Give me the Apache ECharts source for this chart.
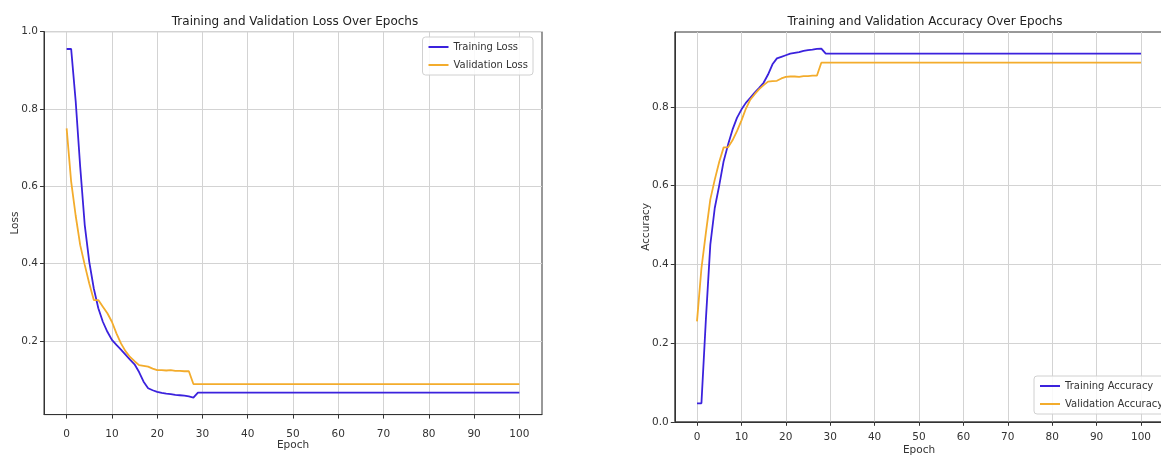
<!DOCTYPE html>
<html>
<head>
<meta charset="utf-8">
<script src="https://cdn.jsdelivr.net/npm/echarts@6/dist/echarts.min.js"></script>
<style>
  html, body { margin: 0; padding: 0; background: #fff; }
  #chart { width: 1161px; height: 455px; }
</style>
</head>
<body>
<div id="chart"></div>
<script>
const epochs = [
  0, 1, 2, 3, 4, 5, 6, 7, 8, 9, 10, 11, 12, 13, 14, 15, 16, 17, 18, 19,
  20, 21, 22, 23, 24, 25, 26, 27, 28, 29, 30, 31, 32, 33, 34, 35, 36, 37, 38, 39,
  40, 41, 42, 43, 44, 45, 46, 47, 48, 49, 50, 51, 52, 53, 54, 55, 56, 57, 58, 59,
  60, 61, 62, 63, 64, 65, 66, 67, 68, 69, 70, 71, 72, 73, 74, 75, 76, 77, 78, 79,
  80, 81, 82, 83, 84, 85, 86, 87, 88, 89, 90, 91, 92, 93, 94, 95, 96, 97, 98, 99, 100,
];
const trainLoss = [
  0.955, 0.955, 0.82, 0.65, 0.50, 0.405, 0.336, 0.285, 0.25, 0.224,
  0.203, 0.19, 0.178, 0.165, 0.152, 0.14, 0.12, 0.095, 0.078, 0.073,
  0.069, 0.066, 0.064, 0.063, 0.061, 0.06, 0.059, 0.057, 0.054, 0.067,
  0.067, 0.067, 0.067, 0.067, 0.067, 0.067, 0.067, 0.067, 0.067, 0.067,
  0.067, 0.067, 0.067, 0.067, 0.067, 0.067, 0.067, 0.067, 0.067, 0.067,
  0.067, 0.067, 0.067, 0.067, 0.067, 0.067, 0.067, 0.067, 0.067, 0.067,
  0.067, 0.067, 0.067, 0.067, 0.067, 0.067, 0.067, 0.067, 0.067, 0.067,
  0.067, 0.067, 0.067, 0.067, 0.067, 0.067, 0.067, 0.067, 0.067, 0.067,
  0.067, 0.067, 0.067, 0.067, 0.067, 0.067, 0.067, 0.067, 0.067, 0.067,
  0.067, 0.067, 0.067, 0.067, 0.067, 0.067, 0.067, 0.067, 0.067, 0.067, 0.067,
];
const valLoss = [
  0.75, 0.612, 0.524, 0.448, 0.397, 0.349, 0.306, 0.306, 0.289, 0.272,
  0.25, 0.22, 0.194, 0.174, 0.159, 0.148, 0.138, 0.136, 0.134, 0.129,
  0.125, 0.125, 0.124, 0.125, 0.123, 0.123, 0.122, 0.122, 0.089, 0.089,
  0.089, 0.089, 0.089, 0.089, 0.089, 0.089, 0.089, 0.089, 0.089, 0.089,
  0.089, 0.089, 0.089, 0.089, 0.089, 0.089, 0.089, 0.089, 0.089, 0.089,
  0.089, 0.089, 0.089, 0.089, 0.089, 0.089, 0.089, 0.089, 0.089, 0.089,
  0.089, 0.089, 0.089, 0.089, 0.089, 0.089, 0.089, 0.089, 0.089, 0.089,
  0.089, 0.089, 0.089, 0.089, 0.089, 0.089, 0.089, 0.089, 0.089, 0.089,
  0.089, 0.089, 0.089, 0.089, 0.089, 0.089, 0.089, 0.089, 0.089, 0.089,
  0.089, 0.089, 0.089, 0.089, 0.089, 0.089, 0.089, 0.089, 0.089, 0.089, 0.089,
];
const trainAcc = [
  0.047, 0.047, 0.26, 0.45, 0.543, 0.60, 0.662, 0.704, 0.742, 0.772,
  0.793, 0.81, 0.823, 0.836, 0.848, 0.861, 0.882, 0.908, 0.923, 0.927,
  0.931, 0.935, 0.937, 0.939, 0.942, 0.944, 0.945, 0.947, 0.948, 0.935,
  0.935, 0.935, 0.935, 0.935, 0.935, 0.935, 0.935, 0.935, 0.935, 0.935,
  0.935, 0.935, 0.935, 0.935, 0.935, 0.935, 0.935, 0.935, 0.935, 0.935,
  0.935, 0.935, 0.935, 0.935, 0.935, 0.935, 0.935, 0.935, 0.935, 0.935,
  0.935, 0.935, 0.935, 0.935, 0.935, 0.935, 0.935, 0.935, 0.935, 0.935,
  0.935, 0.935, 0.935, 0.935, 0.935, 0.935, 0.935, 0.935, 0.935, 0.935,
  0.935, 0.935, 0.935, 0.935, 0.935, 0.935, 0.935, 0.935, 0.935, 0.935,
  0.935, 0.935, 0.935, 0.935, 0.935, 0.935, 0.935, 0.935, 0.935, 0.935, 0.935,
];
const valAcc = [
  0.255, 0.39, 0.48, 0.565, 0.615, 0.66, 0.697, 0.697, 0.715, 0.738,
  0.765, 0.795, 0.818, 0.832, 0.845, 0.855, 0.864, 0.865, 0.866, 0.872,
  0.876, 0.877, 0.877, 0.876, 0.878, 0.878, 0.879, 0.879, 0.912, 0.912,
  0.912, 0.912, 0.912, 0.912, 0.912, 0.912, 0.912, 0.912, 0.912, 0.912,
  0.912, 0.912, 0.912, 0.912, 0.912, 0.912, 0.912, 0.912, 0.912, 0.912,
  0.912, 0.912, 0.912, 0.912, 0.912, 0.912, 0.912, 0.912, 0.912, 0.912,
  0.912, 0.912, 0.912, 0.912, 0.912, 0.912, 0.912, 0.912, 0.912, 0.912,
  0.912, 0.912, 0.912, 0.912, 0.912, 0.912, 0.912, 0.912, 0.912, 0.912,
  0.912, 0.912, 0.912, 0.912, 0.912, 0.912, 0.912, 0.912, 0.912, 0.912,
  0.912, 0.912, 0.912, 0.912, 0.912, 0.912, 0.912, 0.912, 0.912, 0.912, 0.912,
];
const xTicks = [0, 10, 20, 30, 40, 50, 60, 70, 80, 90, 100];
const lossTicks = [0.2, 0.4, 0.6, 0.8, 1.0];
const accTicks = [0.0, 0.2, 0.4, 0.6, 0.8];

const FONT = "'DejaVu Sans', sans-serif";
const BLUE = '#3b22dd';
const ORANGE = '#f3ac2c';
const txt = '#333';

function xAxis(gridIndex, margin, nameGap) {
  return {
    type: 'value', gridIndex, min: -5, max: 105,
    name: 'Epoch', nameLocation: 'middle', nameGap, nameMoveOverlap: false,
    nameTextStyle: { fontFamily: FONT, fontSize: 10.5, color: txt },
    axisLine: { onZero: false, lineStyle: { color: '#333', width: 1 } },
    axisTick: { customValues: xTicks, length: 4, lineStyle: { color: '#333' } },
    axisLabel: { customValues: xTicks, fontFamily: FONT, fontSize: 10.5, color: txt, margin },
    splitLine: { show: true, lineStyle: { color: '#d3d3d3', width: 1 } },
  };
}
function yAxis(gridIndex, name, min, max, ticks, nameGap) {
  return {
    type: 'value', gridIndex, min, max,
    name, nameLocation: 'middle', nameGap, nameMoveOverlap: false,
    nameTextStyle: { fontFamily: FONT, fontSize: 10.5, color: txt },
    axisLine: { show: true, onZero: false, lineStyle: { color: '#333', width: 1 } },
    axisTick: { show: true, customValues: ticks, length: 4, lineStyle: { color: '#333' } },
    axisLabel: { customValues: ticks, fontFamily: FONT, fontSize: 10.5, color: txt, margin: 6,
      formatter: v => v.toFixed(1) },
    splitLine: { show: true, lineStyle: { color: '#d3d3d3', width: 1 } },
  };
}
function line(name, values, color, idx) {
  return {
    name, type: 'line', xAxisIndex: idx, yAxisIndex: idx,
    data: values.map((v, i) => [epochs[i], v]),
    showSymbol: false, symbol: 'none', animation: false,
    lineStyle: { color, width: 1.8 }, itemStyle: { color },
  };
}
const legendBase = {
  orient: 'vertical', icon: 'rect', itemWidth: 20, itemHeight: 2, itemGap: 8,
  padding: [5, 5, 5, 6], backgroundColor: 'rgba(255,255,255,0.85)',
  borderColor: '#d0d0d0', borderWidth: 1, borderRadius: 3,
  textStyle: { fontFamily: FONT, fontSize: 10, color: txt },
};

const chart = echarts.init(document.getElementById('chart'));
chart.setOption({
  animation: false,
  title: [
    { text: 'Training and Validation Loss Over Epochs', left: 290, top: 11, textAlign: 'center',
      textStyle: { fontFamily: FONT, fontSize: 12, fontWeight: 'normal', color: '#222' } },
    { text: 'Training and Validation Accuracy Over Epochs', left: 920, top: 11, textAlign: 'center',
      textStyle: { fontFamily: FONT, fontSize: 12, fontWeight: 'normal', color: '#222' } },
  ],
  // fixed plot boxes; outerBoundsMode 'none' stops v6 from shrinking them
  grid: [
    { left: 44, top: 31.6, width: 498, height: 383, outerBoundsMode: 'none',
      show: true, borderColor: '#333', borderWidth: 1 },
    { left: 674.8, top: 32, width: 488.4, height: 389.8, outerBoundsMode: 'none',
      show: true, borderColor: '#333', borderWidth: 1 },
  ],
  xAxis: [xAxis(0, 14, 25), xAxis(1, 10, 23)],
  yAxis: [
    yAxis(0, 'Loss', 0.01, 1.0, lossTicks, 23),
    yAxis(1, 'Accuracy', 0, 0.99, accTicks, 23),
  ],
  legend: [
    Object.assign({}, legendBase, { data: ['Training Loss', 'Validation Loss'], right: 628, top: 37 }),
    Object.assign({}, legendBase, { data: ['Training Accuracy', 'Validation Accuracy'], left: 1034, top: 376 }),
  ],
  series: [
    line('Training Loss', trainLoss, BLUE, 0),
    line('Validation Loss', valLoss, ORANGE, 0),
    line('Training Accuracy', trainAcc, BLUE, 1),
    line('Validation Accuracy', valAcc, ORANGE, 1),
  ],
});
</script>
</body>
</html>
